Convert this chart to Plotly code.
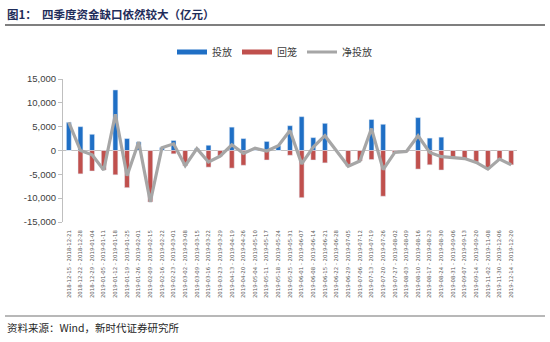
import plotly.graph_objects as go

weeks = [
    "2018-12-15 - 2018-12-21", "2018-12-22 - 2018-12-28", "2018-12-29 - 2019-01-04",
    "2019-01-05 - 2019-01-11", "2019-01-12 - 2019-01-18", "2019-01-19 - 2019-01-25",
    "2019-01-26 - 2019-02-01", "2019-02-09 - 2019-02-15", "2019-02-16 - 2019-02-22",
    "2019-02-23 - 2019-03-01", "2019-03-02 - 2019-03-08", "2019-03-09 - 2019-03-15",
    "2019-03-16 - 2019-03-22", "2019-03-23 - 2019-03-29", "2019-04-13 - 2019-04-19",
    "2019-04-20 - 2019-04-26", "2019-05-04 - 2019-05-10", "2019-05-11 - 2019-05-17",
    "2019-05-18 - 2019-05-24", "2019-05-25 - 2019-05-31", "2019-06-01 - 2019-06-07",
    "2019-06-08 - 2019-06-14", "2019-06-15 - 2019-06-21", "2019-06-22 - 2019-06-28",
    "2019-06-29 - 2019-07-05", "2019-07-06 - 2019-07-12", "2019-07-13 - 2019-07-19",
    "2019-07-20 - 2019-07-26", "2019-07-27 - 2019-08-02", "2019-08-03 - 2019-08-09",
    "2019-08-10 - 2019-08-16", "2019-08-17 - 2019-08-23", "2019-08-24 - 2019-08-30",
    "2019-08-31 - 2019-09-06", "2019-09-07 - 2019-09-13", "2019-09-14 - 2019-09-20",
    "2019-11-02 - 2019-11-08", "2019-11-30 - 2019-12-06", "2019-12-14 - 2019-12-20",
]

# 投放 (亿元)
injection = [5900, 5000, 3400, 0, 12700, 2500, 1800, 0, 600, 2100,
             0, 400, 1100, 0, 4900, 2500, 500, 1900, 1000, 5200,
             7100, 2700, 5700, 0, 0, 0, 6500, 5500, 0, 0,
             6900, 2600, 2800, 0, 0, 0, 0, 0, 0]

# 回笼 (亿元, shown as negative)
withdrawal = [0, -4900, -4300, -4100, -5100, -7800, 0, -10800, 0, -700,
              -3200, 0, -3500, -1200, -3700, -3100, 0, -2000, 0, -1000,
              -9900, -2000, -2600, 0, -3300, -2200, -1900, -9600, -500, -200,
              -3900, -3000, -4100, -1500, -1700, -2400, -3900, -1800, -3000]

# 净投放 (亿元)
net_injection = [5900, 0, -900, -4100, 7600, -5300, 1800, -10800, 600, 1400,
                 -3200, 400, -2400, -1200, 1200, -600, 500, -100, 1000, 4200,
                 -2800, 700, 3100, 0, -3300, -2200, 4600, -4000, -400, -200,
                 3100, -400, -1300, -1500, -1700, -2500, -3900, -1800, -3000]

y_ticks = [15000, 10000, 5000, 0, -5000, -10000, -15000]
y_tick_text = ["15,000", "10,000", "5,000", "0", "-5,000", "-10,000", "-15,000"]

BLUE = "#1F6FC5"
RED = "#C0504D"
GREY = "#A6A6A6"
CJK = "Noto Sans CJK SC"

PLOT_W, PLOT_H = 454, 143
M_L, M_B = 63, 120


def px_to_paper_y(py):
    return (342 - py - M_B) / PLOT_H


def px_to_paper_x(px):
    return (px - M_L) / PLOT_W


fig = go.Figure()

fig.add_trace(go.Bar(x=weeks, y=injection, marker_color=BLUE, width=0.42,
                     showlegend=False, hoverinfo="x+y"))
fig.add_trace(go.Bar(x=weeks, y=withdrawal, marker_color=RED, width=0.42,
                     showlegend=False, hoverinfo="x+y"))
fig.add_trace(go.Scatter(x=weeks, y=net_injection, mode="lines",
                         line=dict(color=GREY, width=3.2),
                         showlegend=False, hoverinfo="x+y"))

# legend entries drawn as thick strokes
for name, color, w in [("投放", BLUE, 5), ("回笼", RED, 5), ("净投放", GREY, 3.2)]:
    fig.add_trace(go.Scatter(x=[None], y=[None], mode="lines", name=name,
                             line=dict(color=color, width=w)))

fig.update_layout(
    width=550, height=342,
    margin=dict(l=M_L, r=550 - M_L - PLOT_W, t=342 - M_B - PLOT_H, b=M_B),
    paper_bgcolor="white", plot_bgcolor="white",
    barmode="overlay", bargap=0.5,
    font=dict(family=CJK, size=9, color="#404040"),
    legend=dict(orientation="h", x=px_to_paper_x(172), xanchor="left",
                y=px_to_paper_y(52), yanchor="middle",
                font=dict(family=CJK, size=10, color="#404040"),
                itemwidth=30, tracegroupgap=0, bgcolor="rgba(0,0,0,0)"),
    xaxis=dict(type="category", tickangle=-90, showgrid=False, showline=False,
               tickfont=dict(family="DejaVu Sans", size=5.4, color="#595959"),
               ticks="", range=[-0.5, len(weeks) - 0.5], ticklabelstandoff=6),
    yaxis=dict(range=[-15000, 15000], tickvals=y_ticks, ticktext=y_tick_text,
               showgrid=False, zeroline=True, zerolinecolor="#BFBFBF", zerolinewidth=1,
               showline=True, linecolor="#BFBFBF", linewidth=1,
               ticks="outside", ticklen=4, tickcolor="#BFBFBF",
               tickfont=dict(family="Liberation Sans", size=9.5, color="#404040")),
    shapes=[
        dict(type="line", xref="paper", yref="paper",
             x0=px_to_paper_x(5), x1=px_to_paper_x(545),
             y0=px_to_paper_y(25), y1=px_to_paper_y(25),
             line=dict(color="#7F7F7F", width=2)),
        dict(type="line", xref="paper", yref="paper",
             x0=px_to_paper_x(5), x1=px_to_paper_x(545),
             y0=px_to_paper_y(316), y1=px_to_paper_y(316),
             line=dict(color="#A0A0A0", width=1.5)),
    ],
    annotations=[
        dict(text="<b>图1：  四季度资金缺口依然较大（亿元）</b>", xref="paper", yref="paper",
             x=px_to_paper_x(5), y=px_to_paper_y(14), xanchor="left", yanchor="middle",
             showarrow=False, font=dict(family=CJK, size=11.5, color="#1F2D5A")),
        dict(text="资料来源：Wind，新时代证券研究所", xref="paper", yref="paper",
             x=px_to_paper_x(5), y=px_to_paper_y(327), xanchor="left", yanchor="middle",
             showarrow=False, font=dict(family=CJK, size=10.5, color="#262626")),
    ],
)

fig.write_html("out.html")
